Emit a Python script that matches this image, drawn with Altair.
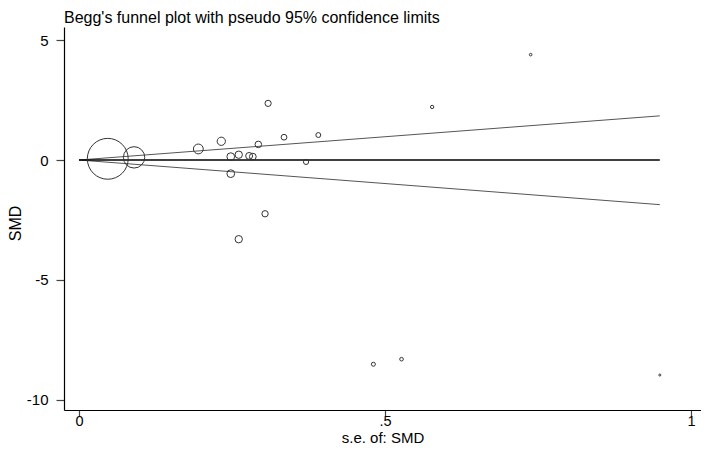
import altair as alt
import pandas as pd

# ---- data ----
se = [0.047, 0.090, 0.195, 0.2325, 0.248, 0.261, 0.278, 0.284, 0.293, 0.309,
      0.335, 0.391, 0.371, 0.248, 0.304, 0.261, 0.577, 0.738, 0.481, 0.527, 0.949]
smd = [0.05, 0.11, 0.46, 0.78, 0.14, 0.22, 0.17, 0.14, 0.65, 2.36,
       0.95, 1.04, -0.08, -0.57, -2.24, -3.30, 2.21, 4.39, -8.51, -8.30, -8.96]

ci_se = [0.0, 0.949]
ci_upper = [0.0, 1.84]
ci_lower = [0.0, -1.86]
pooled = [0.0, 0.0]

x_ticks = [0, 0.5, 1]
y_ticks = [-10, -5, 0, 5]
title_text = "Begg's funnel plot with pseudo 95% confidence limits"
x_title = "s.e. of: SMD"
y_title = "SMD"

FONT = "Liberation Sans, Arial, sans-serif"

points = pd.DataFrame({"se": se, "smd": smd})
funnel = pd.DataFrame({
    "se": ci_se + ci_se,
    "smd": ci_upper + ci_lower,
    "which": ["upper"] * 2 + ["lower"] * 2,
})
center = pd.DataFrame({"se": ci_se, "smd": pooled})

xscale = alt.Scale(domain=[-0.0245, 1.0163], nice=False, zero=False)
yscale = alt.Scale(domain=[-10.417, 5.542], nice=False, zero=False)

xaxis = alt.Axis(
    values=x_ticks, title=x_title, grid=False,
    labelExpr="datum.value == 0.5 ? '.5' : '' + datum.value",
    domainColor="black", domainWidth=1.2,
    tickColor="#444", tickWidth=1.2, tickSize=6,
    labelPadding=-2, labelFontSize=14.5, labelFont=FONT, labelColor="black",
    labelFlush=False, labelOverlap=False,
    titleFontSize=15, titleFont=FONT, titleColor="black", titleFontWeight="normal",
    titleX=318.5, titleY=32, titleBaseline="alphabetic", titleAlign="center",
)
yaxis = alt.Axis(
    values=y_ticks, title=y_title, grid=False,
    labelExpr="'' + datum.value",
    domainColor="black", domainWidth=1.2,
    tickColor="#444", tickWidth=1.2, tickSize=8,
    labelPadding=8, labelFontSize=15, labelFont=FONT, labelColor="black",
    labelFlush=False, labelOverlap=False,
    titleFontSize=16, titleFont=FONT, titleColor="black", titleFontWeight="normal",
    titleAngle=270, titleX=-44, titleY=196, titleBaseline="alphabetic", titleAlign="center",
)

x_enc = alt.X("se:Q", scale=xscale, axis=xaxis)
y_enc = alt.Y("smd:Q", scale=yscale, axis=yaxis)

funnel_layer = alt.Chart(funnel).mark_line(color="#555", strokeWidth=1).encode(
    x=x_enc, y=y_enc, detail="which:N"
)
center_layer = alt.Chart(center).mark_line(color="black", strokeWidth=1.3).encode(
    x=x_enc, y=y_enc
)
point_layer = alt.Chart(points).transform_calculate(
    w="1 / (datum.se * datum.se)"
).mark_point(shape="circle", filled=False, stroke="#333", strokeWidth=1, opacity=1).encode(
    x=x_enc, y=y_enc,
    size=alt.Size("w:Q", scale=alt.Scale(type="linear", domain=[0, 500], range=[0, 1845], zero=True), legend=None),
)

chart = alt.layer(funnel_layer, center_layer, point_layer).properties(
    width=637, height=383,
    autosize=alt.AutoSizeParams(type="none"),
    padding={"left": 56, "top": 19, "right": 0, "bottom": 35},
    title=alt.TitleParams(title_text, anchor="start", frame="group", fontSize=16, font=FONT,
                          fontWeight="normal", color="black", offset=5,
                          baseline="alphabetic", dy=17),
    background="white",
).configure_view(stroke=None)

chart.save("out.html", embed_options={"renderer": "svg", "actions": False})
